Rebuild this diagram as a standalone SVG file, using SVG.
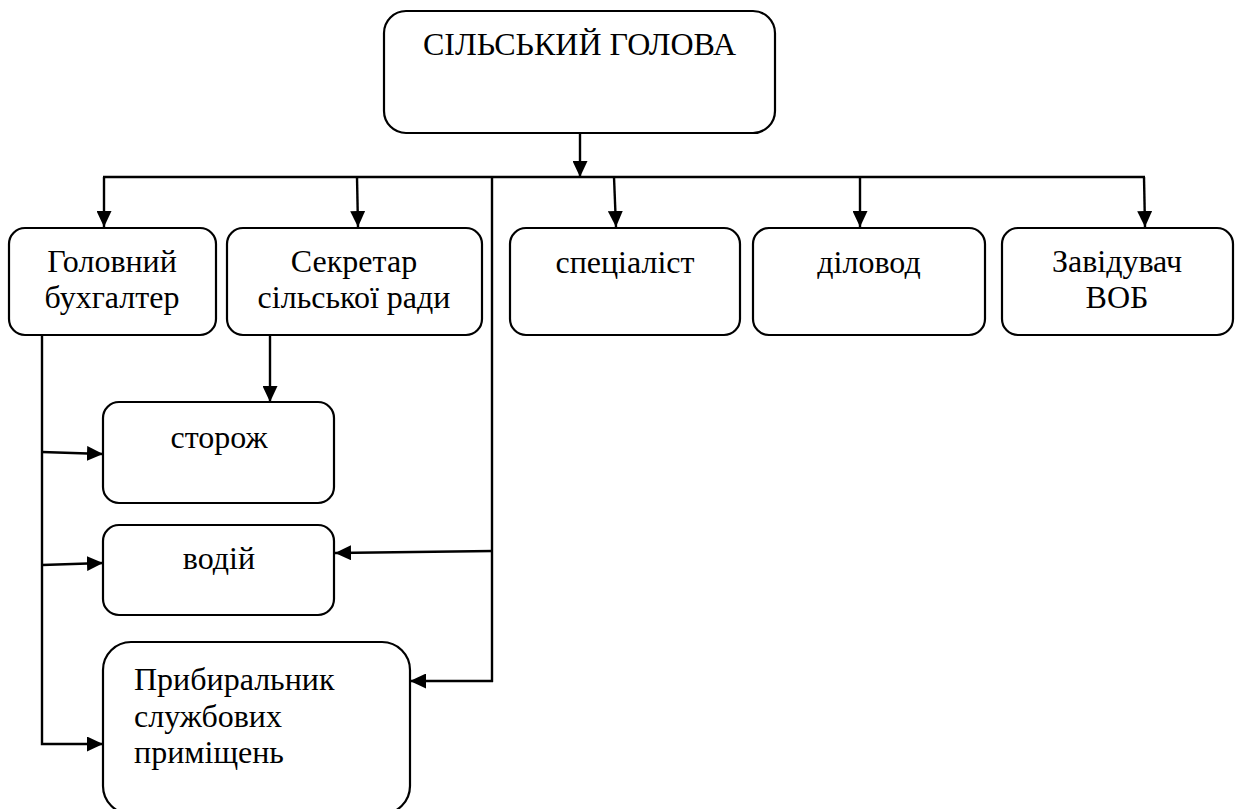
<svg xmlns="http://www.w3.org/2000/svg" width="1238" height="809" viewBox="0 0 1238 809">
<style>
.box{fill:#fff;stroke:#000;stroke-width:2.2}
.t{font-family:"Liberation Serif","Times New Roman",serif;font-size:32px;fill:#000}
.c{text-anchor:middle}
.ln{fill:none;stroke:#000;stroke-width:2.4}
</style>
<defs>
<marker id="ah" markerUnits="userSpaceOnUse" markerWidth="16" markerHeight="15" refX="16" refY="7.5" orient="auto">
<path d="M0,0 L16,7.5 L0,15 z" fill="#000"/>
</marker>
</defs>
<rect width="1238" height="809" fill="#fff"/>
<g id="connectors">
<path class="ln" d="M580,133 L580,177" marker-end="url(#ah)"/>
<path class="ln" d="M103,177 L1145,177"/>
<path class="ln" d="M104,177 L104,227" marker-end="url(#ah)"/>
<path class="ln" d="M357,177 L358,227" marker-end="url(#ah)"/>
<path class="ln" d="M614,177 L616,227" marker-end="url(#ah)"/>
<path class="ln" d="M860,177 L860,227" marker-end="url(#ah)"/>
<path class="ln" d="M1144,177 L1145,227" marker-end="url(#ah)"/>
<path class="ln" d="M492,177 L492,682"/>
<path class="ln" d="M493,551 L335,553" marker-end="url(#ah)"/>
<path class="ln" d="M493,681 L410,681" marker-end="url(#ah)"/>
<path class="ln" d="M42,335 L42,744 L103,744" marker-end="url(#ah)"/>
<path class="ln" d="M42,452 L103,454" marker-end="url(#ah)"/>
<path class="ln" d="M42,565 L103,563" marker-end="url(#ah)"/>
<path class="ln" d="M270,335 L270,402" marker-end="url(#ah)"/>
</g>
<g id="holova">
<rect class="box" x="384" y="11" width="391" height="122" rx="22"/>
<text class="t c" x="579.5" y="55">СІЛЬСЬКИЙ ГОЛОВА</text>
</g>
<g id="buhhalter">
<rect class="box" x="9" y="228" width="207" height="107" rx="16"/>
<text class="t c" x="112" y="272">Головний</text>
<text class="t c" x="112" y="308">бухгалтер</text>
</g>
<g id="sekretar">
<rect class="box" x="227" y="228" width="255" height="107" rx="16"/>
<text class="t c" x="354" y="272">Секретар</text>
<text class="t c" x="354" y="308">сільської ради</text>
</g>
<g id="spetsialist">
<rect class="box" x="510" y="228" width="230" height="107" rx="16"/>
<text class="t c" x="625" y="273">спеціаліст</text>
</g>
<g id="dilovod">
<rect class="box" x="753" y="228" width="232" height="107" rx="16"/>
<text class="t c" x="869" y="273">діловод</text>
</g>
<g id="zaviduvach">
<rect class="box" x="1002" y="228" width="231" height="107" rx="16"/>
<text class="t c" x="1117" y="272">Завідувач</text>
<text class="t c" x="1117" y="308">ВОБ</text>
</g>
<g id="storozh">
<rect class="box" x="103" y="402" width="231" height="101" rx="16"/>
<text class="t c" x="219" y="448">сторож</text>
</g>
<g id="vodii">
<rect class="box" x="103" y="525" width="231" height="90" rx="16"/>
<text class="t c" x="219" y="569">водій</text>
</g>
<g id="prybyralnyk">
<rect class="box" x="103" y="642" width="307" height="172" rx="28"/>
<text class="t" x="134" y="690">Прибиральник</text>
<text class="t" x="134" y="727">службових</text>
<text class="t" x="134" y="763">приміщень</text>
</g>
</svg>
